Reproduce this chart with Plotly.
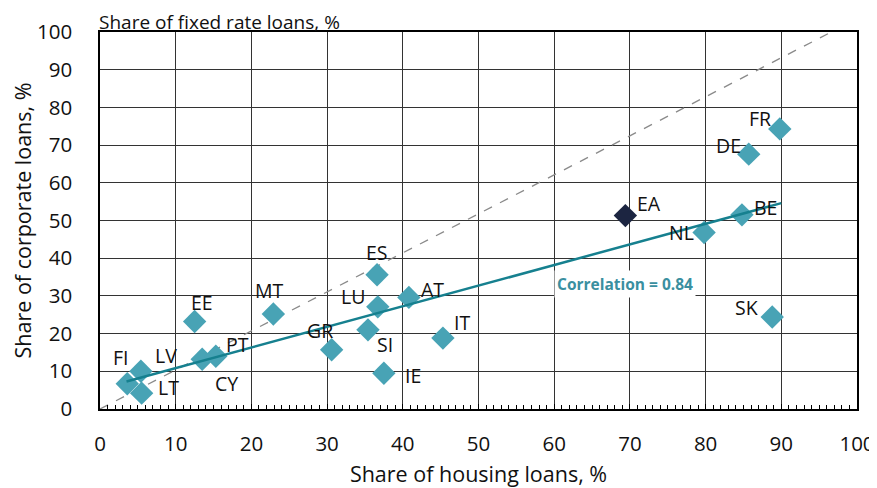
import plotly.graph_objects as go

# ---- data ----
countries = ["FI", "LV", "LT", "EE", "CY", "PT", "MT", "GR", "SI", "ES", "LU",
             "IE", "AT", "IT", "NL", "BE", "DE", "FR", "SK"]
housing = [3.6, 5.4, 5.5, 12.5, 13.5, 15.3, 22.9, 30.6, 35.4, 36.6, 36.7,
           37.5, 40.8, 45.3, 79.8, 84.8, 85.7, 89.8, 88.8]
corporate = [6.7, 10.0, 4.2, 23.2, 13.2, 14.0, 25.2, 15.7, 21.0, 35.6, 27.1,
             9.5, 29.6, 18.8, 46.8, 51.5, 67.6, 74.3, 24.4]
ea_name = ["EA"]
ea_housing = [69.4]
ea_corporate = [51.3]
trend_x = [3.5, 90.0]
trend_y = [7.3, 54.6]
diag_x = [0, 96.6]
diag_y = [0, 100]
correlation_text = "Correlation = 0.84"
correlation_pos = (69.3, 33.2)
x_ticks = [0, 10, 20, 30, 40, 50, 60, 70, 80, 90, 100]
y_ticks = [0, 10, 20, 30, 40, 50, 60, 70, 80, 90, 100]

# label offsets in pixels (dx, dy; dy positive = up)
label_offsets = {
    "FI": (-6, 26), "LV": (25, 16), "LT": (27, 6), "EE": (7, 19),
    "CY": (24, -24), "PT": (22, 12), "MT": (-4, 24), "GR": (-12, 19),
    "SI": (17, -15), "IE": (29, -2), "ES": (0, 22), "LU": (-25, 10),
    "AT": (24, 8), "IT": (19, 16), "EA": (24, 12), "NL": (-23, 0),
    "BE": (24, 7), "DE": (-20, 9), "FR": (-20, 10), "SK": (-26, 10),
}

FONT = "Open Sans"
FS = 20.5
FT = 21.5
TEAL = "#48A3B5"
LINE = "#16808F"
NAVY = "#1C2541"
GRID = "#333333"

fig = go.Figure()

fig.add_trace(go.Scatter(x=diag_x, y=diag_y, mode="lines",
                         line=dict(color="#8a8a8a", width=1.3, dash="dash"),
                         hoverinfo="skip", showlegend=False))
fig.add_trace(go.Scatter(x=housing, y=corporate, mode="markers",
                         marker=dict(symbol="diamond", size=18, color=TEAL),
                         text=countries, showlegend=False))
fig.add_trace(go.Scatter(x=ea_housing, y=ea_corporate, mode="markers",
                         marker=dict(symbol="diamond", size=18, color=NAVY),
                         text=ea_name, showlegend=False))
fig.add_trace(go.Scatter(x=trend_x, y=trend_y, mode="lines",
                         line=dict(color=LINE, width=2.5),
                         hoverinfo="skip", showlegend=False))

annotations = []
for name, xv, yv in list(zip(countries, housing, corporate)) + list(zip(ea_name, ea_housing, ea_corporate)):
    dx, dy = label_offsets[name]
    annotations.append(dict(x=xv, y=yv, text=name, showarrow=False,
                            xshift=dx, yshift=dy,
                            font=dict(family=FONT, size=FS - 1, color="#111111")))

annotations.append(dict(x=correlation_pos[0], y=correlation_pos[1], text="<b>" + correlation_text + "</b>",
                        showarrow=False, bgcolor="white", borderpad=2,
                        font=dict(family=FONT, size=15.5, color="#3A8FA0")))

annotations.append(dict(x=0, y=1, xref="paper", yref="paper", xanchor="left", yanchor="top",
                        xshift=-2, yshift=24, borderpad=0, text="Share of fixed rate loans, %", showarrow=False,
                        font=dict(family=FONT, size=19, color="#111111")))

fig.update_layout(
    width=877, height=488,
    margin=dict(l=92, r=28, t=24, b=87),
    paper_bgcolor="white", plot_bgcolor="white",
    font=dict(family=FONT, size=FS, color="#111111"),
    annotations=annotations,
    xaxis=dict(range=[0, 100], tickvals=x_ticks, showgrid=True, gridcolor=GRID, gridwidth=1,
               showline=True, mirror=True, linecolor="black", linewidth=1.5,
               ticks="inside", ticklen=5, tickcolor="black",
               minor=dict(ticks="inside", dtick=1, ticklen=4, tickcolor="black"),
               ticklabelstandoff=16, zeroline=False, automargin=False,
               title=dict(text="Share of housing loans, %", standoff=11,
                          font=dict(family=FONT, size=FT))),
    yaxis=dict(range=[0, 100], tickvals=y_ticks, showgrid=True, gridcolor=GRID, gridwidth=1,
               showline=True, mirror=True, linecolor="black", linewidth=1.5,
               ticks="", ticklabelstandoff=22, zeroline=False, automargin=False,
               title=dict(text="Share of corporate loans, %", standoff=13,
                          font=dict(family=FONT, size=FT))),
)

fig.write_html("out.html")
